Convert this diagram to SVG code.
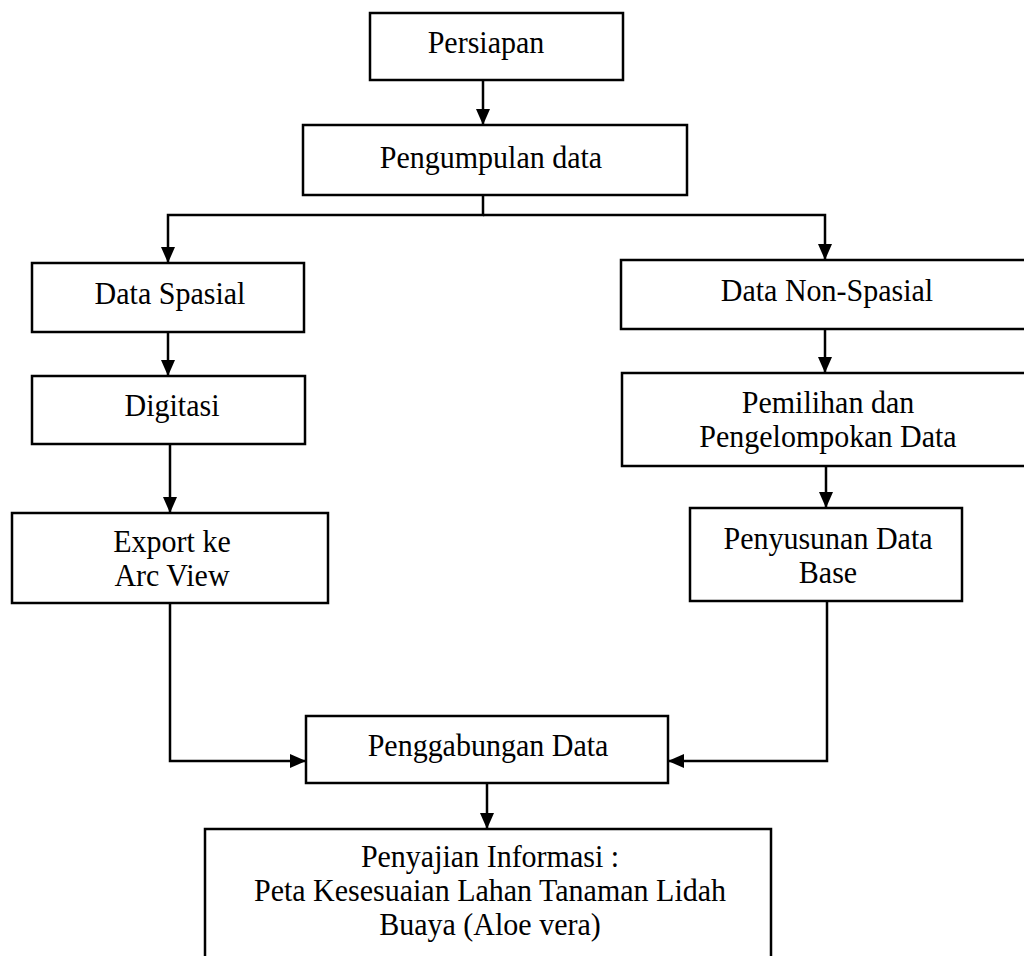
<svg xmlns="http://www.w3.org/2000/svg" width="1024" height="956" viewBox="0 0 1024 956">
<style>
.box{fill:#fff;stroke:#000;stroke-width:2.5}
.t{font-family:"Liberation Serif","Times New Roman",serif;font-size:30px;fill:#000;text-anchor:middle;transform-box:fill-box;transform-origin:center bottom;transform:scaleY(1.06)}
.c{fill:none;stroke:#000;stroke-width:2.5}
</style>
<defs>
<marker id="ah" markerUnits="userSpaceOnUse" markerWidth="16" markerHeight="14" refX="16" refY="7" orient="auto">
<path d="M0,0 L16,7 L0,14 z" fill="#000"/>
</marker>
</defs>
<rect width="1024" height="956" fill="#fff"/>
<g id="connectors">
<path class="c" d="M483,80 V125" marker-end="url(#ah)"/>
<path class="c" d="M483,195 V215 H168 V263" marker-end="url(#ah)"/>
<path class="c" d="M483,215 H825 V260" marker-end="url(#ah)"/>
<path class="c" d="M168,332 V376" marker-end="url(#ah)"/>
<path class="c" d="M170,444 V513" marker-end="url(#ah)"/>
<path class="c" d="M825,329 V373" marker-end="url(#ah)"/>
<path class="c" d="M826,466 V508" marker-end="url(#ah)"/>
<path class="c" d="M170,603 V761 H306" marker-end="url(#ah)"/>
<path class="c" d="M827,601 V761 H668" marker-end="url(#ah)"/>
<path class="c" d="M487,783 V829" marker-end="url(#ah)"/>
</g>
<g id="persiapan"><rect class="box" x="370" y="13" width="253" height="67"/><text class="t" x="486" y="53">Persiapan</text></g>
<g id="pengumpulan"><rect class="box" x="303" y="125" width="384" height="70"/><text class="t" x="491" y="168">Pengumpulan data</text></g>
<g id="data-spasial"><rect class="box" x="32" y="263" width="272" height="69"/><text class="t" x="170" y="304">Data Spasial</text></g>
<g id="digitasi"><rect class="box" x="32" y="376" width="273" height="68"/><text class="t" x="172" y="416">Digitasi</text></g>
<g id="export"><rect class="box" x="12" y="513" width="316" height="90"/><text class="t" x="172" y="552">Export ke</text><text class="t" x="172" y="586">Arc View</text></g>
<g id="data-non-spasial"><rect class="box" x="621" y="260" width="412" height="69"/><text class="t" x="827" y="301">Data Non-Spasial</text></g>
<g id="pemilihan"><rect class="box" x="622" y="373" width="412" height="93"/><text class="t" x="828" y="413">Pemilihan dan</text><text class="t" x="828" y="447">Pengelompokan Data</text></g>
<g id="penyusunan"><rect class="box" x="690" y="508" width="272" height="93"/><text class="t" x="828" y="549">Penyusunan Data</text><text class="t" x="828" y="583">Base</text></g>
<g id="penggabungan"><rect class="box" x="306" y="716" width="362" height="67"/><text class="t" x="488" y="756">Penggabungan Data</text></g>
<g id="penyajian"><rect class="box" x="205" y="829" width="566" height="140"/><text class="t" x="490" y="867">Penyajian Informasi :</text><text class="t" x="490" y="901">Peta Kesesuaian Lahan Tanaman Lidah</text><text class="t" x="490" y="935">Buaya (Aloe vera)</text></g>
</svg>
